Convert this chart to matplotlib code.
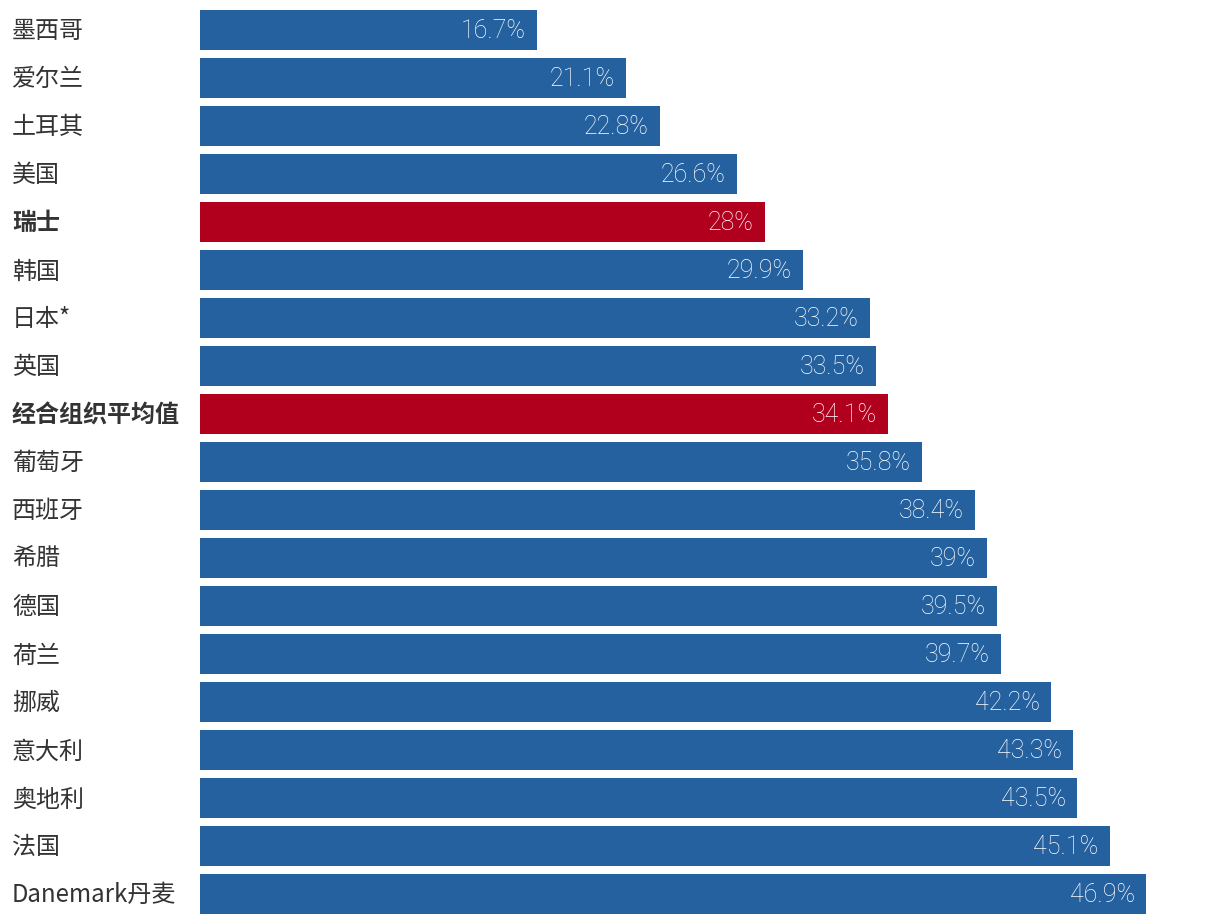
import matplotlib
matplotlib.use("Agg")
import matplotlib.pyplot as plt
from matplotlib.transforms import blended_transform_factory

plt.rcParams['font.family'] = ['Noto Sans CJK SC', 'DejaVu Sans']

countries = ["墨西哥", "爱尔兰", "土耳其", "美国", "瑞士", "韩国", "日本*", "英国",
             "经合组织平均值", "葡萄牙", "西班牙", "希腊", "德国", "荷兰", "挪威",
             "意大利", "奥地利", "法国", "Danemark丹麦"]
values = [16.7, 21.1, 22.8, 26.6, 28, 29.9, 33.2, 33.5, 34.1, 35.8, 38.4, 39,
          39.5, 39.7, 42.2, 43.3, 43.5, 45.1, 46.9]
value_labels = ["16.7%", "21.1%", "22.8%", "26.6%", "28%", "29.9%", "33.2%", "33.5%",
                "34.1%", "35.8%", "38.4%", "39%", "39.5%", "39.7%", "42.2%", "43.3%",
                "43.5%", "45.1%", "46.9%"]
highlight = ["瑞士", "经合组织平均值"]

BLUE = "#25619f"
RED = "#b0001e"

W, H = 1220, 924
fig = plt.figure(figsize=(W / 100, H / 100), dpi=100)
ax = fig.add_axes([200 / W, 0, 1 - 200 / W, 1])

px_per_unit = (1146 - 200) / 46.9
ax.set_xlim(0, (W - 200) / px_per_unit)
ax.set_ylim(18.625, -0.625)

colors = [RED if c in highlight else BLUE for c in countries]
ypos = list(range(len(countries)))
ax.barh(ypos, values, height=40 / 48, color=colors, linewidth=0)

pad = 11 / px_per_unit
dy = 2 / 48
for y, v, lab in zip(ypos, values, value_labels):
    ax.text(v - pad, y + dy * 0.5, lab, ha="right", va="center", color="white",
            fontsize=18, fontweight="light", family=["Roboto", "DejaVu Sans"])

trans = blended_transform_factory(fig.transFigure, ax.transData)
for y, c in zip(ypos, countries):
    bold = c in highlight
    ax.text(12 / W, y + dy * 0.7, c, transform=trans, ha="left", va="center",
            color="#333333", fontsize=17.3,
            fontweight="bold" if bold else "normal")

ax.axis("off")
fig.savefig("out.png", dpi=100)
